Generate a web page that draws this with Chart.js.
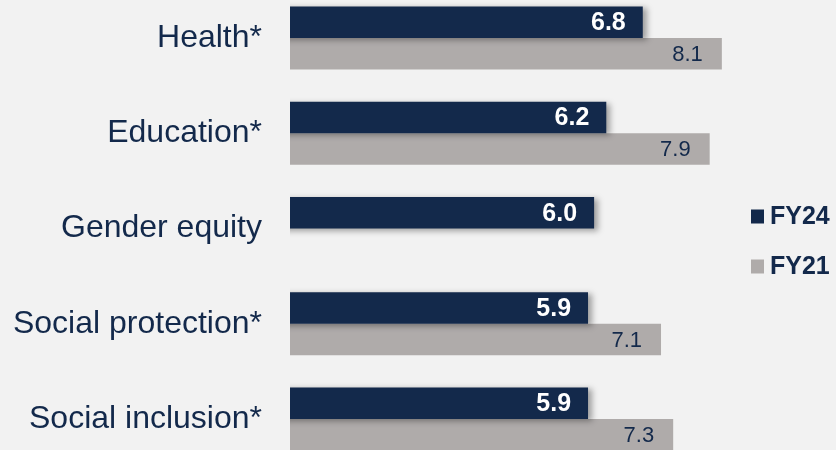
<!DOCTYPE html>
<html>
<head>
<meta charset="utf-8">
<script src="https://cdn.jsdelivr.net/npm/chart.js@4.4.1/dist/chart.umd.min.js"></script>
<style>
  body { margin: 0; background: #f2f2f2; }
  #wrap { width: 836px; height: 450px; position: relative; }
</style>
</head>
<body>
<div id="wrap"><canvas id="myChart"></canvas></div>
<script>
// datos del gráfico
const categories = ['Health*', 'Education*', 'Gender equity', 'Social protection*', 'Social inclusion*'];
const fy24 = [6.8, 6.2, 6.0, 5.9, 5.9];
const fy21 = [8.1, 7.9, null, 7.1, 7.3];

const navy = '#13294b';
const grey = '#afabaa';
const textColor = '#13294b';
const fontFamily = '"Liberation Sans", Arial, sans-serif';

// sombra para las barras FY24
const barShadow = {
    id: 'barShadow',
    beforeDatasetDraw(chart, args) {
        if (args.index !== 0) return;
        const ctx = chart.ctx;
        ctx.save();
        ctx.shadowColor = 'rgba(0,0,0,0.35)';
        ctx.shadowBlur = 6;
        ctx.shadowOffsetX = 4;
        ctx.shadowOffsetY = 2;
    },
    afterDatasetDraw(chart, args) {
        if (args.index !== 0) return;
        chart.ctx.restore();
    }
};

// etiquetas de valor dentro de cada barra
const valueLabels = {
    id: 'valueLabels',
    afterDatasetsDraw(chart) {
        const ctx = chart.ctx;
        chart.data.datasets.forEach((ds, i) => {
            const meta = chart.getDatasetMeta(i);
            meta.data.forEach((bar, j) => {
                const v = ds.data[j];
                if (v === null) return;
                ctx.save();
                ctx.textAlign = 'right';
                ctx.textBaseline = 'middle';
                if (i === 0) {
                    ctx.font = 'bold 25px ' + fontFamily;
                    ctx.fillStyle = '#ffffff';
                    ctx.fillText(v.toFixed(1), bar.x - 17, bar.y + 1);
                } else {
                    ctx.font = '22px ' + fontFamily;
                    ctx.fillStyle = textColor;
                    ctx.fillText(v.toFixed(1), bar.x - 19, bar.y + 1);
                }
                ctx.restore();
            });
        });
    }
};

// leyenda a la derecha
const sideLegend = {
    id: 'sideLegend',
    afterDraw(chart) {
        const ctx = chart.ctx;
        const x = chart.chartArea.right + 3;
        const mid = (chart.chartArea.top + chart.chartArea.bottom) / 2;
        chart.data.datasets.forEach((ds, i) => {
            const y = mid - 12 + i * 50;
            ctx.save();
            ctx.fillStyle = ds.backgroundColor;
            ctx.fillRect(x, y - 7, 13, 14);
            ctx.font = 'bold 25px ' + fontFamily;
            ctx.fillStyle = textColor;
            ctx.textAlign = 'left';
            ctx.textBaseline = 'middle';
            ctx.fillText(ds.label, x + 19, y + 1);
            ctx.restore();
        });
    }
};

const ctx = document.getElementById('myChart').getContext('2d');

const barClip = { left: 0, top: false, right: false, bottom: false };

const myChart = new Chart(ctx, {
    type: 'bar',
    data: {
        labels: categories,
        datasets: [{
            label: 'FY24',
            data: fy24,
            backgroundColor: navy,
            categoryPercentage: 0.663,
            barPercentage: 1,
            clip: barClip
        }, {
            label: 'FY21',
            data: fy21,
            backgroundColor: grey,
            categoryPercentage: 0.663,
            barPercentage: 1,
            clip: barClip
        }]
    },
    options: {
        indexAxis: 'y',
        responsive: true,
        maintainAspectRatio: false,
        animation: false,
        layout: { padding: { top: 38, bottom: 31, left: 0, right: 88 } },
        plugins: {
            legend: { display: false },
            tooltip: { enabled: false }
        },
        scales: {
            x: { display: false, min: 1, max: 8.53 },
            y: {
                offset: false,
                grid: { display: false },
                border: { display: false },
                ticks: {
                    padding: 20,
                    color: textColor,
                    font: { family: fontFamily, size: 32 }
                },
                afterFit(scale) {
                    scale.width = 290;
                    scale.paddingTop = 0;
                    scale.paddingBottom = 0;
                }
            }
        }
    },
    plugins: [barShadow, valueLabels, sideLegend]
});
</script>
</body>
</html>
